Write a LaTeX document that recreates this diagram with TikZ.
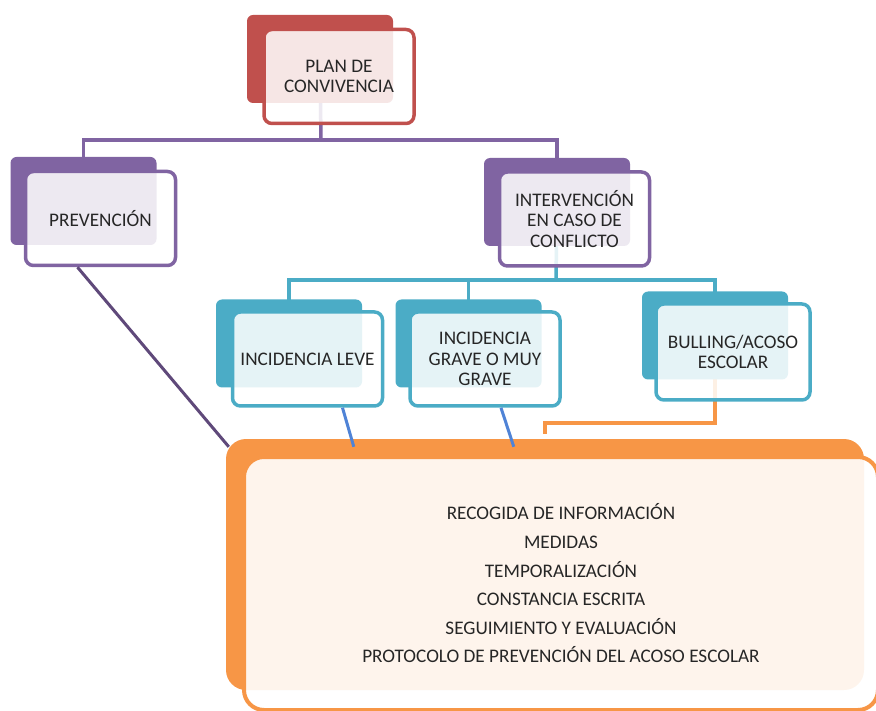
\documentclass[tikz,border=0pt]{standalone}
\usepackage{fontspec}
\setmainfont{Carlito}
\usetikzlibrary{calc,backgrounds}
\definecolor{planred}{HTML}{C0504D}
\definecolor{prevpurple}{HTML}{8064A2}
\definecolor{incteal}{HTML}{4BACC6}
\definecolor{protorange}{HTML}{F79646}
\definecolor{linkblue}{HTML}{4F83D6}
\definecolor{darkpurple}{HTML}{5F497A}
\definecolor{textgray}{HTML}{262626}

\begin{document}
\begin{tikzpicture}[x=1pt, y=-1pt,
    back/.style={fill=#1, rounded corners=6pt, inner sep=0pt, minimum width=146pt, minimum height=88pt},
    front/.style={draw=#1, line width=3.5pt, rounded corners=8pt, fill=white, fill opacity=0.86, text opacity=1,
        text=textgray, align=center, inner sep=0pt, minimum width=150pt, minimum height=94pt,
        font=\fontsize{19.2}{20.5}\selectfont},
    link/.style={draw=#1, line width=3.5pt}]
    \useasboundingbox (0,0) rectangle (876,711);
    \clip (0,0) rectangle (876,711);

    \node[back=planred] (planb) at (320,59) {};
    \node[front=planred] (plan) at (339,76.5) {PLAN DE\\CONVIVENCIA};

    \node[back=prevpurple] (prevb) at (83.5,201) {};
    \node[front=prevpurple] (prev) at (100.5,218.5) {PREVENCIÓN};

    \node[back=prevpurple] (interb) at (557,202) {};
    \node[front=prevpurple] (inter) at (574.5,219) {INTERVENCIÓN\\EN CASO DE\\CONFLICTO};

    \node[back=incteal] (leveb) at (289,343.5) {};
    \node[front=incteal] (leve) at (307.5,359) {INCIDENCIA LEVE};

    \node[back=incteal] (graveb) at (468.5,343.5) {};
    \node[front=incteal] (grave) at (485,359) {INCIDENCIA\\GRAVE O MUY\\GRAVE};

    \node[back=incteal] (bullb) at (715,335.5) {};
    \node[front=incteal, minimum width=154pt, minimum height=96pt] (bull) at (733,352) {BULLING/ACOSO\\ESCOLAR};

    \node[back=protorange, rounded corners=20pt, minimum width=638pt, minimum height=251pt] (protb) at (545,564.5) {};
    \node[front=protorange, rounded corners=20pt, line width=4pt, fill opacity=0.9, minimum width=634pt, minimum height=253pt,
        font=\fontsize{19.2}{28.6}\selectfont] (prot) at (561,583.5)
        {RECOGIDA DE INFORMACIÓN\\MEDIDAS\\TEMPORALIZACIÓN\\CONSTANCIA ESCRITA\\SEGUIMIENTO Y EVALUACIÓN\\PROTOCOLO DE PREVENCIÓN DEL ACOSO ESCOLAR};

    \begin{pgfonlayer}{background}
        \coordinate (planbus) at (321,140);
        \coordinate (interbus) at (556,280);
        \draw[link=prevpurple] (planb.center) -- (planbus);
        \draw[link=prevpurple] (prevb.center) |- (planbus) -| (interb.center);
        \draw[link=incteal] (interb.center) -- (interbus);
        \draw[link=incteal] (leveb.center) |- (interbus) -| (bullb.center);
        \draw[link=incteal] (graveb.center) -- (graveb.center |- interbus);
        \draw[link=protorange, shorten >=5pt] (bullb.center) |- ($(protb.north)+(0,-16)$) -- (protb.north);
    \end{pgfonlayer}

    \draw[link=linkblue, line width=3pt] ($(leve.south)+(35,0)$) -- ($(protb.north west)+(128,8)$);
    \draw[link=linkblue, line width=3pt] ($(grave.south)+(16,0)$) -- ($(protb.north west)+(288,8)$);
    \draw[link=darkpurple, line width=3pt] ($(prev.south)+(-23,0)$) -- ($(protb.north west)+(3,8)$);
\end{tikzpicture}
\end{document}
